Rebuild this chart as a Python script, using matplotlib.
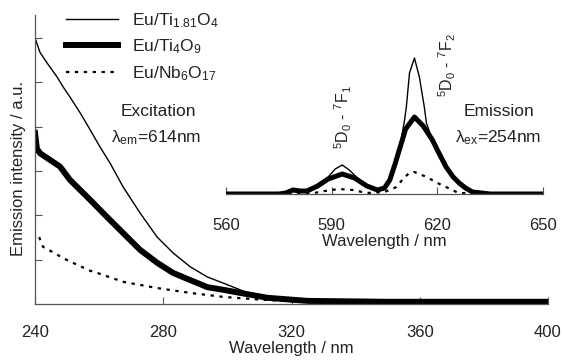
import matplotlib
matplotlib.use("Agg")
import matplotlib.pyplot as plt

plt.rcParams['font.family'] = ['Liberation Sans', 'DejaVu Sans']
plt.rcParams['mathtext.fontset'] = 'custom'
plt.rcParams['mathtext.rm'] = 'Liberation Sans'
plt.rcParams['mathtext.it'] = 'Liberation Sans'
plt.rcParams['mathtext.default'] = 'regular'

TXT = '#222222'

# excitation spectra (main axes), intensity in tick units
ti181_wl = [240, 241.6, 243.75, 246.9, 248.75, 250.9, 254.1, 257.2, 260.3,
            263.4, 267.5, 272.8, 278.1, 283.1, 288.4, 293.75, 298.75, 304,
            307.2, 312, 318, 330, 350, 400]
ti181_exc = [6.0, 5.67, 5.44, 5.12, 4.9, 4.67, 4.31, 3.93, 3.54,
             3.18, 2.64, 2.05, 1.51, 1.15, 0.84, 0.61, 0.47, 0.32,
             0.22, 0.13, 0.07, 0.04, 0.03, 0.03]

ti4o9_wl = [240, 240.6, 241.6, 244.7, 247.8, 250.9, 257.2, 262.5, 267.5,
            272.8, 278.1, 283.1, 288.4, 293.75, 298.75, 304, 312.5, 325,
            350, 400]
ti4o9_exc = [3.86, 3.5, 3.4, 3.25, 3.1, 2.8, 2.35, 1.96, 1.6,
             1.22, 0.93, 0.70, 0.54, 0.38, 0.32, 0.25, 0.14, 0.07,
             0.05, 0.05]

nb_wl = [241.3, 242.5, 250, 257.2, 260.3, 267.5, 278.1, 288.4, 298.75,
         310, 320, 350, 400]
nb_exc = [1.51, 1.29, 0.99, 0.75, 0.68, 0.5, 0.36, 0.25, 0.16,
          0.1, 0.06, 0.04, 0.04]

# emission spectra (inset)
ti181_em_wl = [560, 575, 577, 579, 581, 583, 586, 589, 591, 593, 595, 597,
               600, 603, 605, 606.5, 608, 609.2, 610.7, 611.2, 612.1, 613.5,
               614.9, 616.3, 616.9, 618.6, 620, 622.5, 624.5, 626.2, 628,
               630, 635, 650]
ti181_em = [0, 0, 1, 4, 3, 3, 8, 17, 25, 29, 24, 17,
            8, 4, 6, 14, 30, 44, 74, 87, 121, 136,
            117, 87, 71, 54, 44, 27, 17, 11, 6,
            2, 0, 0]

ti4o9_em_wl = [560, 575, 577, 579, 581, 583, 586, 589, 593, 596.5, 600, 603,
               605, 606.5, 608, 609.2, 611, 613.5, 616, 618.6, 620, 622.5,
               624.5, 626.2, 628, 630, 635, 650]
ti4o9_em = [0, 0, 1, 4, 3, 3, 8, 15, 20, 16, 8, 4,
            6, 14, 30, 44, 65, 77, 68, 54, 44, 27,
            17, 11, 6, 2, 0, 0]

nb_em_wl = [560, 585, 588, 592, 596, 600, 605, 608.4, 610, 612, 613.5, 617,
            620, 622.5, 626, 650]
nb_em = [0, 1, 3, 5, 4, 1, 2, 7, 14, 21, 22, 17, 11, 7, 1, 0]

labels = ['Eu/Ti$_{1.81}$O$_4$', 'Eu/Ti$_4$O$_9$', 'Eu/Nb$_6$O$_{17}$']

W, H = 563, 360
fig = plt.figure(figsize=(W / 100, H / 100), dpi=100)

ax = fig.add_axes([35 / W, 1 - 304 / H, (548 - 35) / W, (304 - 15) / H])
h1, = ax.plot(ti181_wl, ti181_exc, color='black', lw=1.0)
h2, = ax.plot(ti4o9_wl, ti4o9_exc, color='black', lw=4.3)
h3, = ax.plot(nb_wl, nb_exc, color='black', lw=1.6, ls=(0, (1.5, 2.5)))
ax.set_xlim(240, 400)
ax.set_ylim(0, 6.52)
ax.set_xticks([240, 280, 320, 360, 400])
ax.set_yticks([1, 2, 3, 4, 5, 6])
ax.set_yticklabels([])
ax.tick_params(direction='in', length=5, width=0.8, color='#555555',
               labelsize=12, labelcolor=TXT)
ax.tick_params(axis='x', pad=15)
for s in ['top', 'right']:
    ax.spines[s].set_visible(False)
for s in ['left', 'bottom']:
    ax.spines[s].set_color('#555555')
    ax.spines[s].set_linewidth(0.9)
ax.set_xlabel('Wavelength / nm', fontsize=12, color=TXT, labelpad=1)
ax.set_ylabel('Emission intensity / a.u.', fontsize=12, color=TXT)
ax.yaxis.set_label_coords(-0.018, 0.47)

ax.text(158 / W, 1 - 112 / H, 'Excitation', transform=fig.transFigure,
        fontsize=12.5, color=TXT, ha='center', va='center')
ax.text(156 / W, 1 - 138 / H, r'$\lambda_{em}$=614nm', transform=fig.transFigure,
        fontsize=12.5, color=TXT, ha='center', va='center')

fig.legend([h1, h2, h3], labels, loc='upper left',
           bbox_to_anchor=(66 / W, 1 - 11 / H), frameon=False, fontsize=12.5,
           handlelength=3.0, handletextpad=0.8, labelspacing=0.45,
           borderpad=0, borderaxespad=0, labelcolor=TXT)

# inset: emission spectra
ins = fig.add_axes([226 / W, 1 - 194 / H, (543 - 226) / W, 150 / H])
ins.patch.set_alpha(0)
ins.plot(nb_em_wl, nb_em, color='black', lw=1.6, ls=(0, (1.5, 2.5)))
ins.plot(ti4o9_em_wl, ti4o9_em, color='black', lw=3.6)
ins.plot(ti181_em_wl, ti181_em, color='black', lw=1.0)
ins.set_xlim(560, 650)
ins.set_ylim(0, 150)
ins.set_xticks([560, 590, 620, 650])
ins.set_yticks([])
ins.tick_params(direction='in', length=5, width=0.8, color='#555555',
                labelsize=12, labelcolor=TXT, pad=17)
for s in ['top', 'right', 'left']:
    ins.spines[s].set_visible(False)
ins.spines['bottom'].set_color('#555555')
ins.spines['bottom'].set_linewidth(0.9)
ins.set_xlabel('Wavelength / nm', fontsize=12, color=TXT, labelpad=1)

fig.text(343 / W, 1 - 117 / H, r'$^5$D$_0$ - $^7$F$_1$', rotation=90,
         fontsize=11.5, color=TXT, ha='center', va='center')
fig.text(447 / W, 1 - 65 / H, r'$^5$D$_0$ - $^7$F$_2$', rotation=90,
         fontsize=11.5, color=TXT, ha='center', va='center')
fig.text(499 / W, 1 - 112 / H, 'Emission', fontsize=12.5, color=TXT,
         ha='center', va='center')
fig.text(498 / W, 1 - 138 / H, r'$\lambda_{ex}$=254nm', fontsize=12.5,
         color=TXT, ha='center', va='center')

fig.savefig('out.png', dpi=100)
